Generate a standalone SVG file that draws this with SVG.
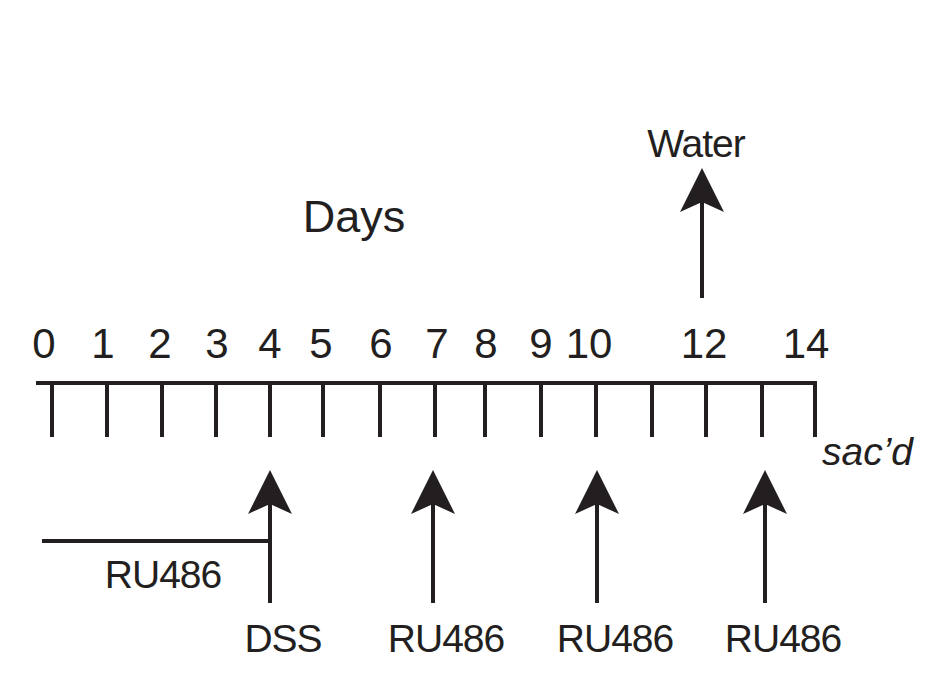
<svg xmlns="http://www.w3.org/2000/svg" width="936" height="677" viewBox="0 0 936 677">
<style>
text{font-family:"Liberation Sans",Arial,sans-serif;fill:#231f20}
.n{font-size:42px;text-anchor:middle}
.l{font-size:39px;text-anchor:middle;letter-spacing:-1px}
line{stroke:#231f20;stroke-width:4}
</style>
<defs><marker id="ah" markerUnits="userSpaceOnUse" markerWidth="44" markerHeight="44" refX="40" refY="22" orient="auto" viewBox="0 0 44 44"><path d="M44 22 L0 0 L10 22 L0 44 Z" fill="#231f20"/></marker></defs>
<rect width="936" height="677" fill="#fff"/>
<text x="354" y="232" style="font-size:45px;text-anchor:middle">Days</text>
<g id="labels">
<text class="n" x="44" y="358">0</text><text class="n" x="103" y="358">1</text><text class="n" x="160" y="358">2</text><text class="n" x="217" y="358">3</text><text class="n" x="270" y="358">4</text><text class="n" x="321" y="358">5</text><text class="n" x="381" y="358">6</text><text class="n" x="437" y="358">7</text><text class="n" x="486" y="358">8</text><text class="n" x="541" y="358">9</text><text class="n" x="589" y="358">10</text><text class="n" x="704" y="358">12</text><text class="n" x="806" y="358">14</text>
</g>
<g id="timeline">
<line x1="36" y1="383" x2="817" y2="383"/>
<g>
<line x1="52" y1="383" x2="52" y2="437"/><line x1="107" y1="383" x2="107" y2="437"/><line x1="162" y1="383" x2="162" y2="437"/><line x1="216" y1="383" x2="216" y2="437"/><line x1="270" y1="383" x2="270" y2="437"/><line x1="323" y1="383" x2="323" y2="437"/><line x1="380" y1="383" x2="380" y2="437"/><line x1="435" y1="383" x2="435" y2="437"/><line x1="485" y1="383" x2="485" y2="437"/><line x1="541" y1="383" x2="541" y2="437"/><line x1="596" y1="383" x2="596" y2="437"/><line x1="652" y1="383" x2="652" y2="437"/><line x1="706" y1="383" x2="706" y2="437"/><line x1="762" y1="383" x2="762" y2="437"/><line x1="815" y1="383" x2="815" y2="437"/>
</g>
</g>
<text x="822" y="465" style="font-size:39px;font-style:italic">sac’d</text>
<g id="connectors">
<line x1="702" y1="298" x2="702" y2="172" marker-end="url(#ah)"/>
<line x1="270" y1="603" x2="270" y2="474" marker-end="url(#ah)"/>
<line x1="433" y1="603" x2="433" y2="474" marker-end="url(#ah)"/>
<line x1="597" y1="603" x2="597" y2="474" marker-end="url(#ah)"/>
<line x1="765" y1="603" x2="765" y2="474" marker-end="url(#ah)"/>
<line x1="42" y1="541" x2="272" y2="541"/>
</g>
<g id="texts">
<text class="l" x="696" y="157">Water</text>
<text class="l" x="163" y="588">RU486</text>
<text class="l" x="283" y="652">DSS</text>
<text class="l" x="446" y="652">RU486</text>
<text class="l" x="615" y="652">RU486</text>
<text class="l" x="783" y="652">RU486</text>
</g>
</svg>
